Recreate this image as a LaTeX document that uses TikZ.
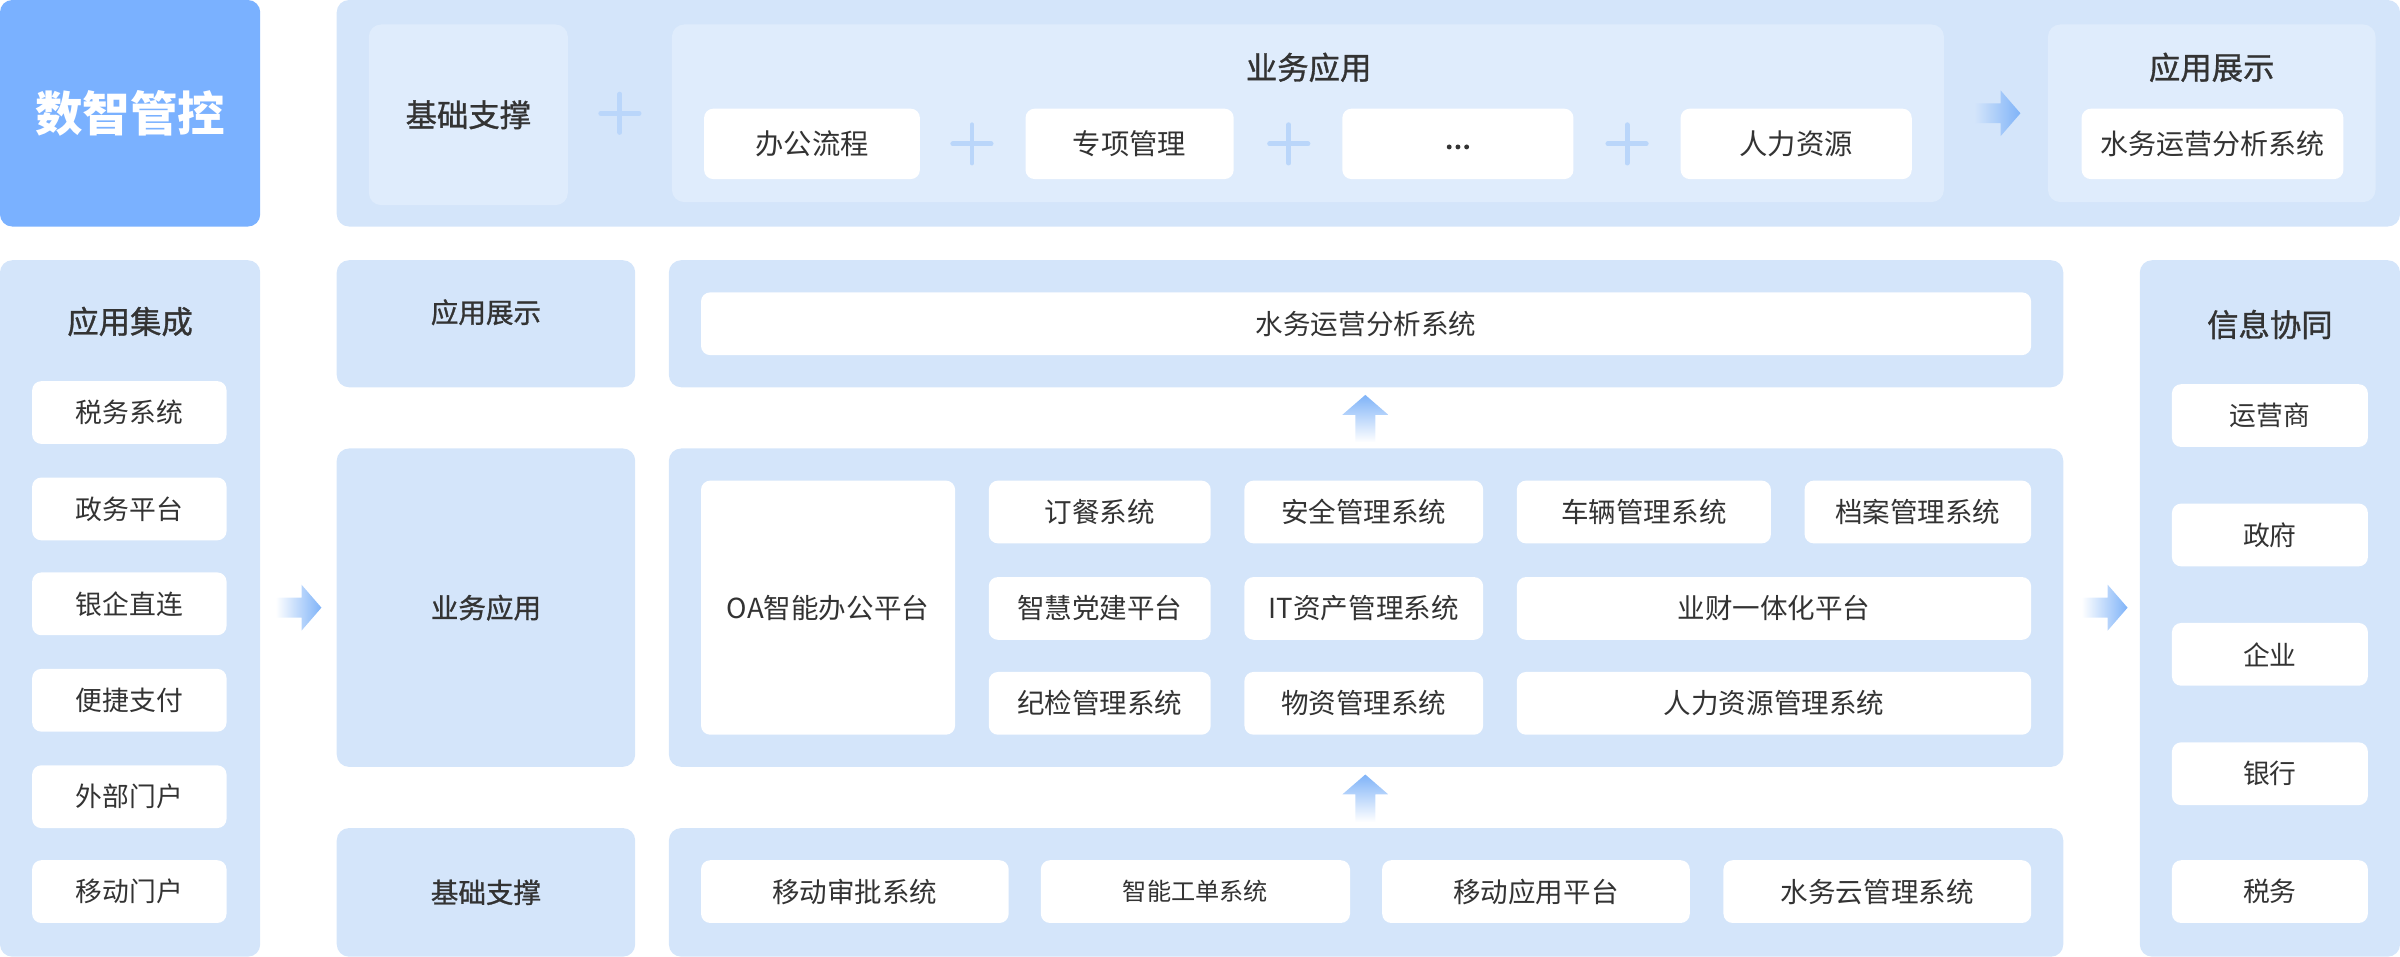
\documentclass[tikz,border=0pt]{standalone}
\usepackage{fontspec}
\newfontfamily\cjk{Noto Sans CJK SC}
\newfontfamily\cjkm[FakeBold=1]{Noto Sans CJK SC}
\definecolor{pbg}{HTML}{D4E5FA}
\definecolor{sbg}{HTML}{DFECFC}
\definecolor{hdr}{HTML}{7AB1FF}
\definecolor{plusc}{HTML}{BAD6FA}
\definecolor{tc}{HTML}{333333}
\definecolor{arr}{HTML}{7FB3F8}
\newcommand\bx[7]{\node[#6, minimum width={(#4-#2)*1pt}, minimum height={(#5-#3)*1pt}] (#1) at ({(#2+#4)/2},{(#3+#5)/2}) {#7};}
\newcommand\rarr[3]{\shade[left color=#3, right color=arr] (#1,#2-6.5) -- (#1+17,#2-6.5) -- (#1+17,#2-15) -- (#1+30,#2) -- (#1+17,#2+15) -- (#1+17,#2+6.5) -- (#1,#2+6.5) -- cycle;}
\newcommand\uarr[2]{\shade[top color=arr, bottom color=white] (#1-6.5,#2) -- (#1-6.5,#2-18) -- (#1-15,#2-18) -- (#1,#2-31) -- (#1+15,#2-18) -- (#1+6.5,#2-18) -- (#1+6.5,#2) -- cycle;}
\newcommand\plus[2]{\draw[plusc, line width=3.2pt, line cap=round] (#1-12.5,#2) -- (#1+12.5,#2) (#1,#2-12.5) -- (#1,#2+12.5);}
\tikzset{
  panel/.style={fill=pbg, draw=none, rounded corners=8pt, inner sep=0pt},
  sub/.style={fill=sbg, draw=none, rounded corners=8pt, inner sep=0pt},
  item/.style={fill=white, draw=none, rounded corners=6pt, inner sep=0pt, text=tc, font=\cjk\fontsize{17.5}{20}\selectfont},
  itemb/.style={item, font=\cjk\fontsize{18}{21}\selectfont},
  ttl/.style={text=tc, inner sep=0pt, font=\cjkm\fontsize{20.5}{24}\selectfont},
  lbl/.style={text=tc, inner sep=0pt, font=\cjkm\fontsize{18}{22}\selectfont},
}
\begin{document}
\begin{tikzpicture}[x=1pt,y=-1pt]
\useasboundingbox (0,0) rectangle (1568,625);
% ---------- top band ----------
\bx{hdr}{0}{0}{170}{148}{panel, fill=hdr, text=white, font=\cjk\bfseries\fontsize{31}{36}\selectfont}{数智管控}
\bx{top}{220}{0}{1568}{148}{panel}{}
\bx{tjc}{241}{16}{371}{134}{sub, ttl}{基础支撑}
\plus{405}{74}
\bx{tyw}{439}{16}{1270}{132}{sub}{}
\node[ttl] (tywt) at (855,44) {业务应用};
\bx{tbg}{460}{71}{601}{117}{itemb, font=\cjk\fontsize{18.5}{21}\selectfont}{办公流程}
\plus{635}{94}
\bx{tzx}{670}{71}{806}{117}{itemb, font=\cjk\fontsize{18.5}{21}\selectfont}{专项管理}
\plus{842}{94}
\bx{tdots}{877}{71}{1028}{117}{itemb}{}
\foreach \dx in {-5.7,0,5.7} \fill[tc] ([shift={(\dx,2)}]tdots.center) circle (1.6pt);
\plus{1063}{94}
\bx{trl}{1098}{71}{1249}{117}{itemb, font=\cjk\fontsize{18.5}{21}\selectfont}{人力资源}
\rarr{1290}{74}{pbg}
\bx{tzs}{1338}{16}{1552}{132}{sub}{}
\node[ttl] (tzst) at (1445,44) {应用展示};
\bx{tsw}{1360}{71}{1531}{117}{itemb, font=\cjk\fontsize{18.3}{21}\selectfont}{水务运营分析系统}
% ---------- left column ----------
\bx{lp}{0}{170}{170}{625}{panel}{}
\node[ttl] (lpt) at (85,210) {应用集成};
\bx{l1}{21}{249}{148}{290}{item}{税务系统}
\bx{l2}{21}{312}{148}{353}{item}{政务平台}
\bx{l3}{21}{374}{148}{415}{item}{银企直连}
\bx{l4}{21}{437}{148}{478}{item}{便捷支付}
\bx{l5}{21}{500}{148}{541}{item}{外部门户}
\bx{l6}{21}{562}{148}{603}{item}{移动门户}
\rarr{180}{397}{white}
% ---------- label column ----------
\bx{m1}{220}{170}{415}{253}{panel}{}
\node[lbl] (m1t) at (317.5,204) {应用展示};
\bx{m2}{220}{293}{415}{501}{panel, lbl}{业务应用}
\bx{m3}{220}{541}{415}{625}{panel, lbl}{基础支撑}
% ---------- center ----------
\bx{c1}{437}{170}{1348}{253}{panel}{}
\bx{csw}{458}{191}{1327}{232}{itemb}{水务运营分析系统}
\uarr{892}{289}
\bx{c2}{437}{293}{1348}{501}{panel}{}
\bx{coa}{458}{314}{624}{480}{itemb}{OA智能办公平台}
\bx{a1}{646}{314}{791}{355}{itemb}{订餐系统}
\bx{a2}{813}{314}{969}{355}{itemb}{安全管理系统}
\bx{a3}{991}{314}{1157}{355}{itemb}{车辆管理系统}
\bx{a4}{1179}{314}{1327}{355}{itemb}{档案管理系统}
\bx{b1}{646}{377}{791}{418}{itemb}{智慧党建平台}
\bx{b2}{813}{377}{969}{418}{itemb}{IT资产管理系统}
\bx{b3}{991}{377}{1327}{418}{itemb}{业财一体化平台}
\bx{d1}{646}{439}{791}{480}{itemb}{纪检管理系统}
\bx{d2}{813}{439}{969}{480}{itemb}{物资管理系统}
\bx{d3}{991}{439}{1327}{480}{itemb}{人力资源管理系统}
\uarr{892}{537}
\bx{c3}{437}{541}{1348}{625}{panel}{}
\bx{e1}{458}{562}{659}{603}{itemb}{移动审批系统}
\bx{e2}{680}{562}{882}{603}{itemb, font=\cjk\fontsize{15.8}{19}\selectfont}{智能工单系统}
\bx{e3}{903}{562}{1104}{603}{itemb}{移动应用平台}
\bx{e4}{1126}{562}{1327}{603}{itemb}{水务云管理系统}
\rarr{1360}{397}{white}
% ---------- right column ----------
\bx{rp}{1398}{170}{1568}{625}{panel}{}
\node[ttl] (rpt) at (1483,212) {信息协同};
\bx{r1}{1419}{251}{1547}{292}{item}{运营商}
\bx{r2}{1419}{329}{1547}{370}{item}{政府}
\bx{r3}{1419}{407}{1547}{448}{item}{企业}
\bx{r4}{1419}{485}{1547}{526}{item}{银行}
\bx{r5}{1419}{562}{1547}{603}{item}{税务}
\end{tikzpicture}
\end{document}
